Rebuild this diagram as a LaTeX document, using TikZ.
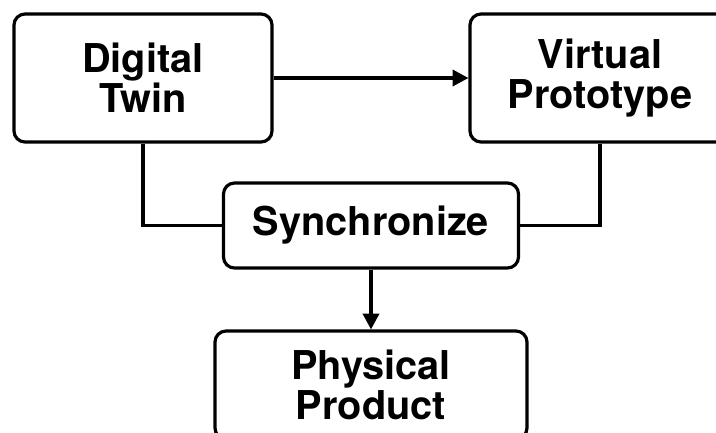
\documentclass[tikz,border=0pt]{standalone}
\usepackage{fontspec}
\setmainfont{TeX Gyre Heros}
\usepackage{tikz}
\usetikzlibrary{arrows.meta}

\tikzset{
  block/.style={draw,line width=0.9pt,rounded corners=1.1mm,fill=white,
    align=center,font=\bfseries\fontsize{11.3}{11.4}\selectfont,inner sep=0pt},
  link/.style={line width=0.9pt},
  flow/.style={link,-{Triangle[length=4.5pt,width=4.6pt]}}
}

\begin{document}
\begin{tikzpicture}
  \useasboundingbox (0,0) rectangle (7.16,4.32);
  \fill[white] (0,0) rectangle (7.16,4.32);
  \clip (0,0) rectangle (7.16,4.32);
      \node[block,minimum width=2.58cm,minimum height=1.28cm] (twin) at (1.43,3.54) {Digital\\Twin};
      \node[block,minimum width=2.60cm,minimum height=1.28cm] (proto) at (6.00,3.54) {Virtual\\Prototype};
      \node[block,minimum width=2.95cm,minimum height=0.85cm] (sync) at (3.71,2.065) {Synchronize};
      \node[block,minimum width=3.12cm,minimum height=1.08cm] (prod) at (3.71,0.47) {Physical\\Product};
      \draw[flow] (twin.east) -- (proto.west);
      \draw[link] (twin.south) |- (sync.west);
      \draw[link] (proto.south) |- (sync.east);
      \draw[flow] (sync.south) -- (prod.north);
\end{tikzpicture}
\end{document}
